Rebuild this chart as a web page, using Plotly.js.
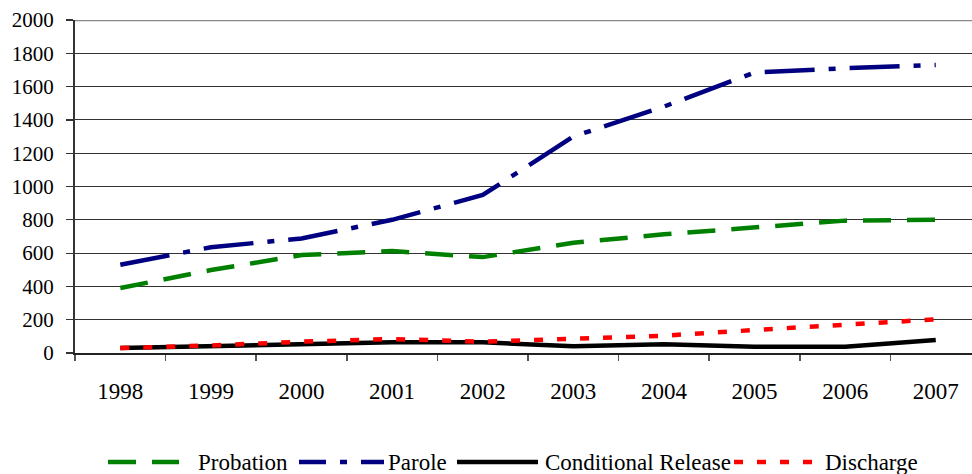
<!DOCTYPE html>
<html>
<head>
<meta charset="utf-8">
<script src="https://cdn.plot.ly/plotly-3.0.1.min.js"></script>
<style>html,body{margin:0;padding:0;background:#fff;}#chart{width:972px;height:474px;}</style>
</head>
<body>
<div id="chart"></div>
<script>
var years = ["1998","1999","2000","2001","2002","2003","2004","2005","2006","2007"];
var seriesNames = ["Probation", "Parole", "Conditional Release", "Discharge"];
var probation = [390, 498, 588, 612, 576, 662, 713, 755, 795, 800];
var parole = [530, 635, 688, 800, 949, 1300, 1480, 1685, 1710, 1730];
var conditionalRelease = [30, 40, 52, 64, 64, 40, 52, 38, 38, 78];
var discharge = [30, 45, 68, 84, 68, 88, 104, 138, 168, 202];
var yTicks = [0, 200, 400, 600, 800, 1000, 1200, 1400, 1600, 1800, 2000];

var serif = "Liberation Serif";
var W = 972, H = 474, ML = 75, MR = 0, MT = 20, MB = 121;
var PW = W - ML - MR, PH = H - MT - MB;
function px(x) { return (x - ML) / PW; }
function py(y) { return (H - MB - y) / PH; }

var styles = [
  {color: "#008000", width: 4.5, dash: "28px,16px"},
  {color: "#000080", width: 4.5, dash: "50px,14px,7px,14px"},
  {color: "#000000", width: 4.5, dash: "solid"},
  {color: "#ff0000", width: 4.5, dash: "9px,14px"}
];
var legendDash = ["28px,16px", "27px,14px,7px,14px", "solid", "9px,14px"];
var series = [probation, parole, conditionalRelease, discharge];

var traces = series.map(function (s, i) {
  return {x: years, y: s, name: seriesNames[i], mode: "lines", line: styles[i], hoverinfo: "skip"};
});

// custom legend (symbol spans and label starts, in pixels)
var legSym = [[108, 179], [299, 384], [457, 538], [734, 816]];
var legText = [197, 387, 544, 824];
var legY = 462;
var shapes = [{type: "line", xref: "paper", yref: "y", x0: 0, x1: 1, y0: 2000, y1: 2000, line: {color: "#888", width: 2.5}}];
var annotations = [];
for (var i = 0; i < seriesNames.length; i++) {
  shapes.push({type: "line", xref: "paper", yref: "paper",
    x0: px(legSym[i][0]), x1: px(legSym[i][1]), y0: py(legY), y1: py(legY),
    line: {color: styles[i].color, width: 4.5, dash: legendDash[i]}});
  annotations.push({xref: "paper", yref: "paper", x: px(legText[i]), y: py(legY + 1),
    xanchor: "left", yanchor: "middle", showarrow: false, text: seriesNames[i],
    font: {family: serif, size: 23, color: "#000"}, borderpad: 0});
}

var layout = {
  width: W, height: H,
  margin: {l: ML, r: MR, t: MT, b: MB},
  paper_bgcolor: "#fff", plot_bgcolor: "#fff",
  showlegend: false,
  font: {family: serif, color: "#000"},
  xaxis: {
    type: "category", range: [-0.5, 9.4],
    tickson: "boundaries", ticks: "outside", ticklen: 6, tickcolor: "#555", tickwidth: 1.5,
    showgrid: false, zeroline: false,
    showline: true, linecolor: "#222", linewidth: 2,
    tickfont: {family: serif, size: 23, color: "#000"},
    ticklabelstandoff: 16
  },
  yaxis: {
    range: [0, 2000], tickvals: yTicks, ticktext: yTicks.map(String),
    ticks: "outside", ticklen: 7, tickcolor: "#333", tickwidth: 1.2,
    showgrid: true, gridcolor: "#333", gridwidth: 1,
    zeroline: false, showline: true, linecolor: "#333", linewidth: 2,
    tickfont: {family: serif, size: 21, color: "#000"},
    ticklabelstandoff: 8
  },
  shapes: shapes,
  annotations: annotations
};
Plotly.newPlot("chart", traces, layout, {displayModeBar: false, staticPlot: true});
</script>
</body>
</html>
